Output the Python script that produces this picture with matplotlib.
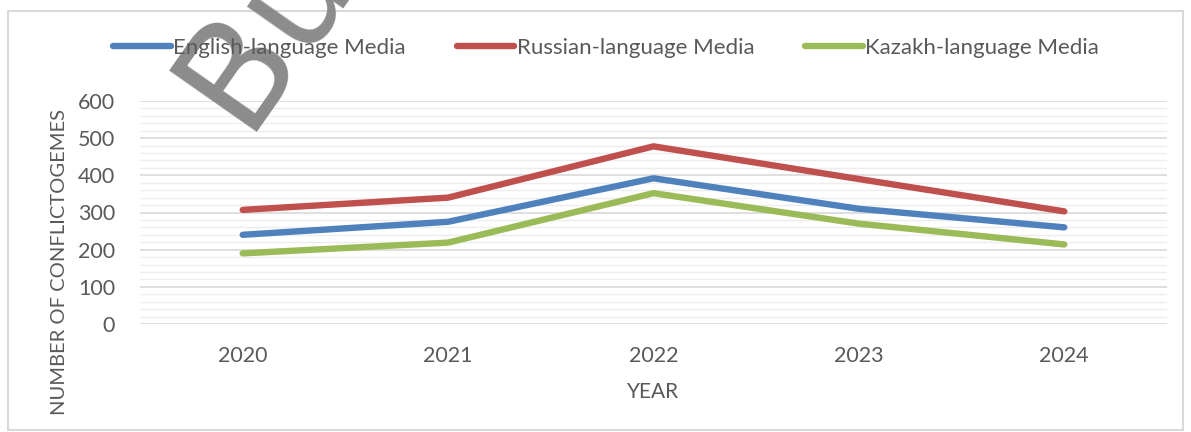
import matplotlib
matplotlib.use("Agg")
import matplotlib.pyplot as plt
from matplotlib.patches import Rectangle
from matplotlib.ticker import MultipleLocator

years = ["2020", "2021", "2022", "2023", "2024"]
english = [240, 275, 392, 310, 260]
russian = [307, 340, 478, 390, 303]
kazakh = [190, 219, 352, 270, 214]
series_names = ["English-language Media", "Russian-language Media", "Kazakh-language Media"]
colors = ["#4f81bd", "#c0504d", "#9bbb59"]

W, H = 1191, 432
fig = plt.figure(figsize=(W / 100, H / 100), dpi=100)
plt.rcParams['font.family'] = ['Lato', 'DejaVu Sans']
txt = "#595959"

# figure border
fig.patches.append(Rectangle((8 / W, 2 / H), (1183 - 8) / W, (421 - 2) / H,
                             transform=fig.transFigure, fill=False,
                             edgecolor="#d9d9d9", linewidth=1.5))

ax = fig.add_axes([140 / W, 108 / H, (1167 - 140) / W, (331 - 108) / H])
x = range(len(years))
for vals, name, c in zip([english, russian, kazakh], series_names, colors):
    ax.plot(x, vals, color=c, linewidth=4.6, solid_capstyle='round',
            solid_joinstyle='round', label=name, zorder=3)

ax.set_xlim(-0.5, len(years) - 0.5)
ax.set_ylim(0, 600)
ax.set_xticks(list(x))
ax.set_xticklabels(years)
ax.yaxis.set_major_locator(MultipleLocator(100))
ax.yaxis.set_minor_locator(MultipleLocator(20))
ax.grid(which='major', axis='y', color="#d9d9d9", linewidth=1.2)
ax.grid(which='minor', axis='y', color="#ededed", linewidth=1.0)
ax.set_axisbelow(True)
for s in ax.spines.values():
    s.set_visible(False)
ax.tick_params(axis='both', which='both', length=0, labelsize=15.5, labelcolor=txt)
ax.tick_params(axis='x', pad=16)
ax.tick_params(axis='y', pad=18)

fig.text(653 / W, 1 - 392 / H, "YEAR", ha='center', va='center', fontsize=15, color=txt)
fig.text(60 / W, 1 - 262 / H, "NUMBER OF CONFLICTOGEMES", ha='center', va='center',
         rotation=90, fontsize=14.5, color=txt)

leg = fig.legend(loc='center', bbox_to_anchor=(606 / W, 1 - 48 / H), ncol=3,
                 frameon=False, fontsize=16, handlelength=2.6, handletextpad=0.1,
                 columnspacing=2.3, labelcolor=txt)

# watermark
fig.text(265 / W, 1 - 30 / H, "Bu", rotation=55, fontsize=105, color="#7f7f7f",
         ha='center', va='center', family='DejaVu Sans', alpha=0.9)

fig.savefig("out.png", dpi=100)
